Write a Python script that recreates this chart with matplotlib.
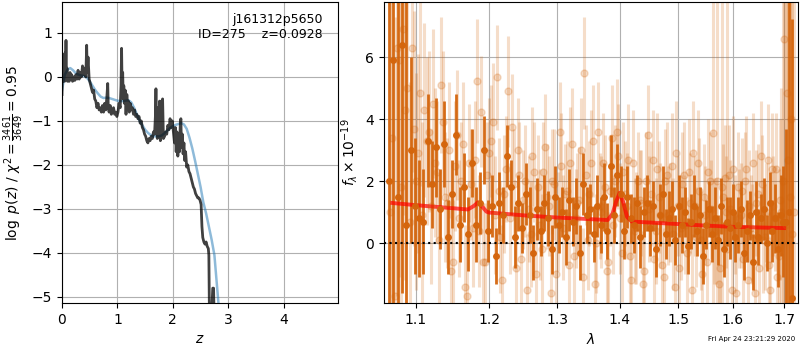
import numpy as np
import matplotlib
matplotlib.use("Agg")
import matplotlib.pyplot as plt
from matplotlib.ticker import NullLocator, FixedLocator

# ---------------- left panel data: log p(z) ----------------
z_pz = [0.000,0.008,0.016,0.024,0.032,0.040,0.048,0.056,0.064,0.072,0.080,0.090,0.100,0.115,0.13,0.145,0.16,0.175,0.19,0.21,
        0.23,0.25,0.27,0.29,0.31,0.33,0.35,0.37,0.39,0.41,0.43,0.445,0.455,0.47,0.49,0.51,0.53,0.55,0.57,0.59,
        0.61,0.63,0.65,0.67,0.69,0.71,0.73,0.75,0.77,0.79,0.81,0.825,0.835,0.85,0.87,0.89,0.91,0.93,0.95,0.97,
        0.99,1.01,1.03,1.05,1.065,1.075,1.085,1.095,1.105,1.115,1.125,1.14,1.155,1.17,1.185,1.20,1.215,1.23,1.25,1.27,
        1.29,1.31,1.33,1.35,1.37,1.39,1.41,1.43,1.45,1.47,1.49,1.51,1.53,1.55,1.57,1.59,1.61,1.63,1.65,1.67,
        1.685,1.695,1.705,1.72,1.735,1.745,1.76,1.775,1.79,1.80,1.815,1.83,1.85,1.87,1.89,1.91,1.93,1.95,1.97,1.99,
        2.01,2.03,2.045,2.06,2.075,2.09,2.105,2.12,2.135,2.145,2.155,2.17,2.185,2.20,2.215,2.23,2.25,2.27,2.29,2.31,
        2.33,2.35,2.37,2.39,2.41,2.43,2.45,2.47,2.49,2.51,2.525,2.54,2.56,2.58,2.60,2.62,2.64,2.65,2.66,2.70,
        2.72,2.735,2.745]
logp = [-0.40,0.30,-0.10,0.50,0.00,0.45,-0.10,0.55,0.10,0.83,-0.05,0.20,-0.10,0.05,-0.10,0.10,-0.05,0.05,-0.10,0.00,
        -0.08,0.05,-0.05,0.15,-0.05,0.10,0.00,0.25,0.05,0.20,0.00,0.72,0.10,0.45,-0.05,-0.15,-0.25,-0.35,-0.30,-0.50,
        -0.55,-0.70,-0.60,-0.75,-0.70,-0.80,-0.65,-0.80,-0.60,-0.75,-0.45,-0.15,-0.70,-0.80,-0.65,-0.85,-0.75,-0.70,-0.85,-0.80,
        -0.90,-0.80,-0.60,-0.70,-0.20,0.65,-0.30,0.10,-0.50,-0.20,-0.60,-0.30,-0.85,-0.40,-0.70,-0.55,-0.80,-0.60,-0.75,-0.70,
        -0.85,-0.75,-0.90,-0.85,-0.95,-0.90,-1.05,-1.00,-1.15,-1.20,-1.30,-1.35,-1.45,-1.50,-1.40,-1.45,-1.35,-1.40,-1.25,-1.30,
        -0.90,-0.27,-1.10,-1.40,-0.70,-1.30,-0.55,-1.45,-0.55,-1.20,-0.50,-1.40,-1.35,-1.25,-1.30,-1.10,-1.20,-0.95,-1.15,-1.00,
        -1.25,-1.50,-1.15,-1.70,-1.25,-1.80,-1.40,-1.70,-1.05,-0.95,-1.60,-1.30,-1.75,-1.50,-1.90,-1.70,-2.05,-2.00,-2.15,-2.20,
        -2.30,-2.40,-2.50,-2.55,-2.65,-2.70,-2.75,-2.75,-2.80,-2.90,-3.40,-3.65,-3.75,-3.80,-3.75,-3.85,-3.90,-4.05,-5.40,-5.40,
        -4.80,-4.80,-5.50]

z_prior = [0.00,0.05,0.10,0.15,0.20,0.25,0.30,0.35,0.40,0.45,0.50,0.55,0.60,0.65,0.70,0.75,0.80,0.85,0.90,0.95,
           1.00,1.05,1.10,1.15,1.20,1.25,1.30,1.35,1.40,1.45,1.50,1.55,1.60,1.65,1.70,1.75,1.80,1.85,1.90,1.95,
           2.00,2.05,2.10,2.15,2.20,2.25,2.30,2.35,2.40,2.45,2.50,2.55,2.60,2.65,2.70,2.75,2.80,2.84]
logp_prior = [-0.30,0.05,0.17,0.20,0.15,0.08,0.05,0.03,0.02,-0.02,-0.10,-0.20,-0.30,-0.38,-0.45,-0.48,-0.47,-0.48,-0.50,-0.52,
              -0.54,-0.55,-0.55,-0.54,-0.53,-0.58,-0.70,-0.85,-1.00,-1.10,-1.20,-1.27,-1.32,-1.35,-1.35,-1.35,-1.33,-1.28,-1.22,-1.16,
              -1.12,-1.09,-1.07,-1.05,-1.08,-1.18,-1.38,-1.62,-1.90,-2.20,-2.50,-2.85,-3.10,-3.40,-3.70,-4.05,-4.80,-5.40]

# ---------------- right panel data: spectrum ----------------
wave_step, n_pts = 0.0055, 119
wave_start_a = 1.0660   # dark (best beam)
wave_start_b = 1.0674   # light, beam 1
wave_start_d = 1.0702   # light, beam 2

flux_a = [2.0,5.9,1.5,6.4,0.6,3.0,1.2,0.8,0.7,3.3,
          1.9,3.1,1.1,3.2,0.2,1.6,3.5,0.6,1.8,0.3,
          2.6,0.6,1.3,3.0,0.4,1.2,-0.4,1.3,0.9,2.8,
          1.8,0.2,1.3,0.5,1.6,0.9,-0.3,1.1,0.4,1.3,
          0.8,-0.2,1.5,0.6,1.0,0.2,1.4,0.7,1.2,-0.3,
          1.9,0.9,1.1,0.3,1.2,0.6,1.5,0.4,2.5,0.9,
          2.2,1.6,0.4,1.5,0.8,0.6,1.3,0.2,1.0,1.3,
          0.5,1.2,-0.2,0.9,1.6,0.3,0.8,1.1,0.1,1.2,
          0.6,1.0,-0.1,0.7,1.2,0.4,0.9,-0.4,0.6,1.1,
          0.3,0.8,0.1,1.2,-0.2,0.7,0.5,1.0,0.2,0.6,
          1.1,-0.3,0.4,0.9,-0.6,1.0,0.2,0.8,1.1,0.0,
          1.3,0.4,0.8,-0.2,0.9,0.7,0.7,1.0,-1.75]
err_a = [9.0,8.0,9.0,8.0,9.0,3.0,2.2,1.9,1.7,1.5,
         1.4,1.6,1.3,1.4,1.2,1.1,1.3,1.2,1.1,1.2,
         1.1,1.2,1.0,1.1,1.0,1.0,0.9,1.0,0.9,1.0,
         0.9,1.0,0.9,0.8,1.0,0.9,0.9,1.0,0.8,0.9,
         0.9,0.8,1.0,0.9,0.8,0.9,1.0,0.8,0.9,0.9,
         1.0,0.9,0.8,0.9,1.0,0.9,1.1,0.9,1.0,0.9,
         1.0,0.9,0.9,1.0,0.8,0.9,0.9,1.0,0.8,0.9,
         0.9,0.8,0.9,1.0,0.9,0.8,0.9,0.9,0.8,1.0,
         0.9,0.8,0.9,0.9,1.0,0.8,0.9,0.9,0.8,0.9,
         0.9,1.0,0.8,0.9,0.9,0.8,1.0,0.9,0.8,0.9,
         0.9,0.9,1.0,0.8,0.9,1.0,0.9,0.8,1.0,0.9,
         1.0,1.0,1.1,1.2,1.3,1.8,3.0,9.0,9.0]

flux_b = [1.0,-1.7,5.9,6.9,5.0,6.3,2.0,4.85,4.3,3.6,
          4.5,2.3,5.1,1.5,3.0,-0.6,3.5,2.0,-1.4,2.6,
          0.5,5.25,4.25,-0.6,2.9,3.9,5.35,0.2,1.6,4.9,
          3.75,-0.8,2.2,1.4,-1.5,0.3,2.3,1.8,-0.2,3.1,
          1.2,2.0,-1.0,3.6,0.5,1.7,2.6,-0.4,1.3,3.0,
          5.5,0.1,2.6,-1.3,3.6,1.0,1.8,-0.6,3.4,2.0,
          2.8,-0.3,1.6,2.7,-1.2,0.4,2.0,1.3,-0.9,3.5,
          1.6,-0.5,2.4,0.9,-1.1,2.2,1.0,0.3,2.9,-0.8,
          1.9,0.6,2.3,-1.5,1.2,2.6,0.1,1.5,-0.6,2.0,
          3.55,0.4,-1.3,1.8,2.1,-0.2,1.1,2.4,-1.6,0.8,
          1.7,2.0,-1.2,0.5,2.6,1.3,-0.8,1.9,0.2,2.7,
          -1.5,1.2,2.4,-0.4,1.0,6.6,4.85,1.5,0.3]
err_b = [9.0,9.0,7.0,6.0,4.5,4.0,3.5,3.0,2.8,2.6,
         2.4,2.3,2.2,2.1,2.2,2.0,2.1,1.9,2.0,1.9,
         1.9,2.0,1.8,1.9,1.8,1.9,1.7,1.8,1.9,1.8,
         1.7,1.8,1.7,1.6,1.8,1.7,1.6,1.7,1.8,1.7,
         1.6,1.7,1.8,1.6,1.7,1.6,1.8,1.7,1.6,1.7,
         1.8,1.6,1.7,1.7,1.6,1.8,1.7,1.6,1.7,1.8,
         1.7,1.6,1.7,1.8,1.6,1.7,1.6,1.7,1.8,1.6,
         1.7,1.6,1.8,1.7,1.6,1.7,1.6,1.8,1.7,1.6,
         1.7,1.6,1.7,1.8,1.6,1.7,1.6,1.7,1.8,1.6,
         9.0,1.7,1.6,9.0,1.7,9.0,1.6,1.7,1.8,1.6,
         1.7,1.6,1.8,1.7,1.6,1.7,1.8,1.6,1.7,1.8,
         1.7,1.6,1.8,2.8,4.0,9.0,9.0,9.0,9.0]
flux_d = [3.4,6.3,1.8,4.3,0.7,3.7,2.9,0.9,3.3,1.2,
          2.6,0.1,3.9,1.3,-0.9,2.5,0.8,3.2,-1.7,1.9,
          2.7,0.4,-0.6,2.2,3.3,0.9,1.7,-1.2,2.4,0.8,
          1.9,3.0,-0.5,2.0,1.1,2.8,-1.0,0.6,2.3,1.5,
          -1.6,1.9,0.7,2.5,1.6,-0.7,3.2,0.8,1.4,-1.1,
          2.2,1.6,3.3,0.0,1.2,2.6,-0.9,1.7,0.6,3.6,
          0.8,2.3,1.2,-0.4,2.6,0.5,1.4,-1.3,2.0,1.1,
          2.7,0.4,1.5,-0.7,2.0,0.9,2.5,-1.4,1.2,0.5,
          2.2,-0.3,1.3,2.9,0.2,1.7,-1.0,0.9,2.3,1.1,
          0.4,2.0,-0.8,1.5,1.0,2.2,-1.5,0.6,1.8,0.9,
          -0.5,2.4,1.2,0.3,-1.6,1.6,2.8,0.1,1.0,-0.7,
          2.4,0.8,-1.1,1.4,2.0,0.6,2.7,4.0,1.0]
err_d = [9.0,8.0,8.0,5.5,4.5,3.8,3.2,3.0,2.7,2.5,
         2.4,2.2,2.3,2.1,2.0,2.1,1.9,2.0,1.9,1.8,
         1.9,1.8,1.9,1.7,1.8,1.9,1.7,1.8,1.7,1.8,
         1.8,1.7,1.6,1.8,1.7,1.6,1.7,1.8,1.6,1.7,
         1.7,1.8,1.6,1.7,1.6,1.7,1.8,1.6,1.7,1.6,
         1.6,1.7,1.8,1.6,1.7,1.6,1.7,1.8,1.6,1.7,
         1.8,1.6,1.7,1.6,1.7,1.8,1.6,1.7,1.6,1.7,
         1.6,1.7,1.8,1.6,1.7,1.6,1.7,1.8,1.6,1.7,
         1.7,1.8,1.6,1.7,1.6,1.7,1.8,1.6,1.7,1.6,
         1.7,9.0,1.6,1.7,1.8,1.6,1.7,1.6,1.8,1.7,
         1.6,1.7,1.8,1.6,1.7,1.6,1.8,1.7,1.6,1.7,
         1.8,1.7,2.0,2.6,9.0,9.0,9.0,9.0,9.0]

model_wave = [1.070,1.10,1.13,1.16,1.170,1.178,1.184,1.190,1.196,1.20,1.25,1.30,1.35,1.380,1.388,1.394,
              1.400,1.406,1.412,1.420,1.45,1.50,1.55,1.60,1.65,1.70]
model_flux = [1.30,1.23,1.17,1.11,1.09,1.20,1.32,1.18,1.02,0.99,0.90,0.83,0.78,0.75,0.95,1.35,
              1.63,1.30,0.85,0.70,0.67,0.62,0.57,0.53,0.51,0.49]

wave_ticks = [1.1, 1.2, 1.3, 1.4, 1.5, 1.6, 1.7]

# ---------------- figure ----------------
fig = plt.figure(figsize=(8, 3.5), dpi=100)
ax1 = fig.add_axes([0.0775, 0.134, 0.345, 0.86])
ax2 = fig.add_axes([0.48, 0.134, 0.5175, 0.86])

ax1.plot(z_prior, logp_prior, color='tab:blue', alpha=0.5, lw=1.8)
ax1.plot(z_pz, logp, color='k', alpha=0.75, lw=2)
ax1.set_xlim(0, 4.98)
ax1.set_ylim(-5.14, 1.7)
ax1.set_xticks([0, 1, 2, 3, 4])
ax1.set_yticks([-5, -4, -3, -2, -1, 0, 1])
ax1.grid(True)
ax1.set_xlabel(r'$z$')
ax1.set_ylabel(r'$\log\ p(z)$ / $\chi^2=\frac{3461}{3649}=0.95$')
ax1.text(0.945, 0.965, 'j161312p5650\nID=275    z=0.0928', ha='right', va='top',
         transform=ax1.transAxes, fontsize=9)

orange = '#d4650c'
idx = np.arange(n_pts)
for start, fl, er in [(wave_start_b, flux_b, err_b), (wave_start_d, flux_d, err_d)]:
    ax2.errorbar(start + wave_step * idx, fl, yerr=er, color=orange, alpha=0.22, marker='o',
                 ms=5, linestyle='none', elinewidth=2.2, capsize=0)
ax2.errorbar(wave_start_a + wave_step * idx, flux_a, yerr=err_a, color=orange, alpha=0.95,
             marker='o', ms=4, linestyle='none', elinewidth=2, capsize=0)
ax2.plot(model_wave, model_flux, color='r', alpha=0.7, lw=2.8)
ax2.axhline(0, color='k', ls=':', lw=1.5)
ax2.set_xscale('log')
ax2.xaxis.set_major_locator(FixedLocator(wave_ticks))
ax2.set_xticklabels([f'{t:.1f}' for t in wave_ticks])
ax2.xaxis.set_minor_locator(NullLocator())
ax2.set_xlim(1.0596, 1.728)
ax2.set_ylim(-1.93, 7.78)
ax2.set_yticks([0, 2, 4, 6])
ax2.grid(True)
ax2.set_xlabel(r'$\lambda$')
ax2.set_ylabel(r'$f_\lambda\times10^{-19}$')

fig.text(0.994, 0.03, 'Fri Apr 24 23:21:29 2020', ha='right', va='center', fontsize=5)

fig.savefig('out.png', dpi=100)
